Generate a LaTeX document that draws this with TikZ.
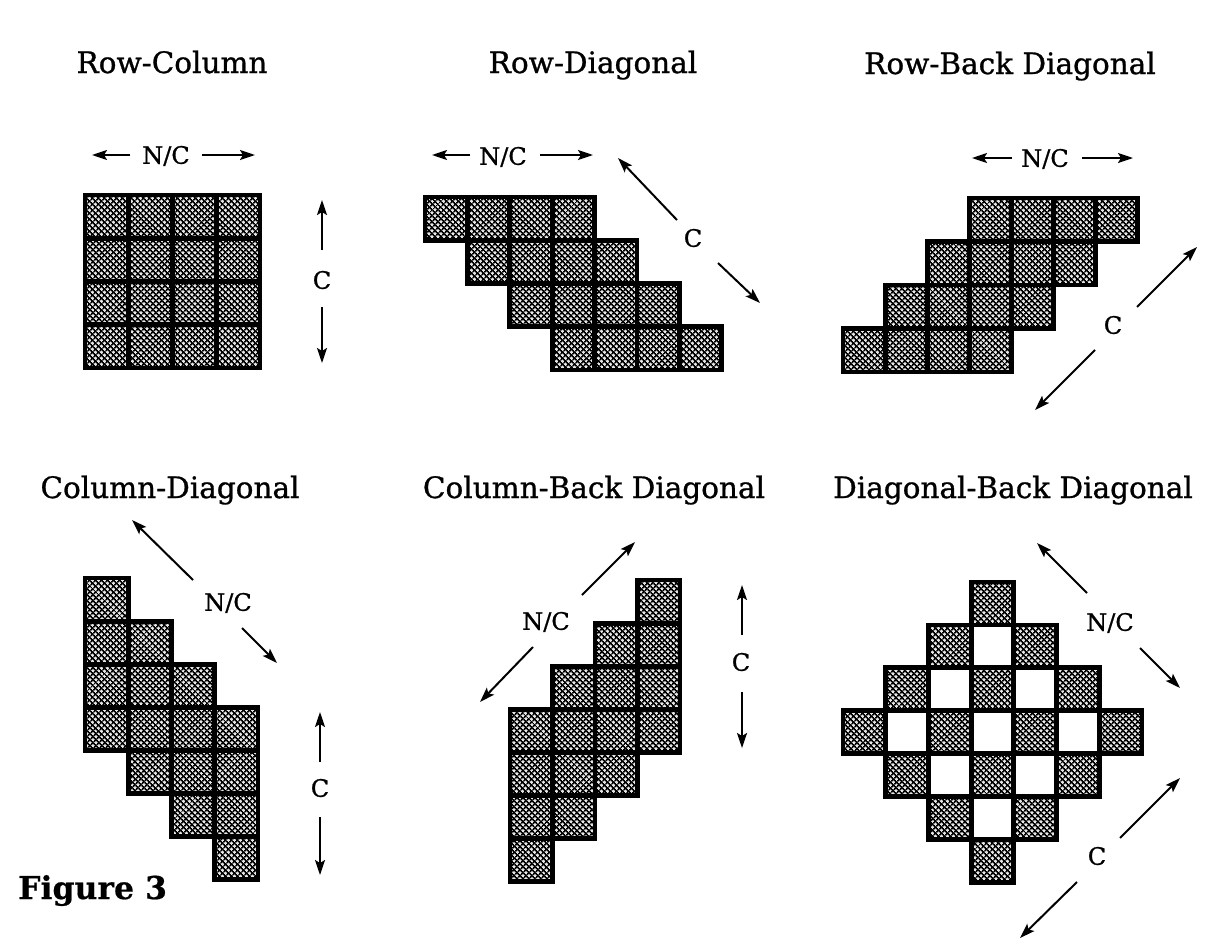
\documentclass[tikz,border=0pt]{standalone}
\usepackage{fontspec}
\setmainfont{DejaVu Serif}
\newfontfamily\heavyserif[FakeBold=0.9]{DejaVu Serif}
\newfontfamily\boldserif[FakeBold=0.6]{DejaVu Serif Bold}
\usetikzlibrary{patterns.meta,arrows.meta}
\tikzset{
 hatchA/.style={pattern={Lines[angle=45,distance=4.0pt,line width=1.6pt]},pattern color=black},
 hatchB/.style={pattern={Lines[angle=-45,distance=4.0pt,line width=1.6pt]},pattern color=black},
 cellbg/.style={fill=black!10},
 cellline/.style={draw=black,line width=4.8pt,line join=miter},
 arr/.style={-{Stealth[length=15pt,width=10pt,inset=3pt]},line width=2pt},
 ttl/.style={font=\heavyserif\fontsize{29.5}{29.5}\selectfont,anchor=base,inner sep=0pt},
 lab/.style={font=\heavyserif\fontsize{24}{24}\selectfont,inner sep=0pt,text height=17.5pt,text depth=0pt},
}
\newcommand\shadecells[1]{%
  \foreach \cx/\ry in #1{%
    \fill[cellbg] (\cx,\ry) rectangle ++(1,1);
    \fill[hatchA] (\cx,\ry) rectangle ++(1,1);
    \fill[hatchB] (\cx,\ry) rectangle ++(1,1);}}
\newcommand\bordercells[1]{%
  \foreach \cx/\ry in #1{\draw[cellline] (\cx,\ry) rectangle ++(1,1);}}
\begin{document}
\begin{tikzpicture}[x=1pt,y=-1pt]
\fill[white] (0,0) rectangle (1225,945);
\useasboundingbox (0,0) rectangle (1225,945);

% ---------- titles
\node[ttl] (t1) at (172,73) {Row-Column};
\node[ttl] (t2) at (593,73) {Row-Diagonal};
\node[ttl] (t3) at (1010,74) {Row-Back Diagonal};
\node[ttl] (t4) at (170,498) {Column-Diagonal};
\node[ttl] (t5) at (594,498) {Column-Back Diagonal};
\node[ttl] (t6) at (1013,498) {Diagonal-Back Diagonal};
\node[font=\boldserif\fontsize{31.5}{31.5}\selectfont,anchor=base west,inner sep=0pt] (fig) at (18,899) {Figure 3};

% ---------- panel 1: Row-Column
\begin{scope}[shift={(85pt,-195pt)},x=43.75pt,y=-43.25pt]
\def\L{0/0,1/0,2/0,3/0,0/1,1/1,2/1,3/1,0/2,1/2,2/2,3/2,0/3,1/3,2/3,3/3}
\shadecells{\L}\bordercells{\L}
\end{scope}
\node[lab] (p1nc) at (166,155) {N/C};
\node[lab] (p1c) at (322,280) {C};
\coordinate (p1a) at (130,155); \coordinate (p1ae) at (92,155);
\coordinate (p1b) at (202,155); \coordinate (p1be) at (255,155);
\coordinate (p1d) at (322,250); \coordinate (p1de) at (322,200);
\coordinate (p1e) at (322,307); \coordinate (p1ee) at (322,363);
\draw[arr] (p1a) -- (p1ae); \draw[arr] (p1b) -- (p1be);
\draw[arr] (p1d) -- (p1de); \draw[arr] (p1e) -- (p1ee);

% ---------- panel 2: Row-Diagonal
\begin{scope}[shift={(425pt,-197pt)},x=42.4pt,y=-43.25pt]
\def\L{0/0,1/0,2/0,3/0,1/1,2/1,3/1,4/1,2/2,3/2,4/2,5/2,3/3,4/3,5/3,6/3}
\shadecells{\L}\bordercells{\L}
\end{scope}
\node[lab] (p2nc) at (503,156) {N/C};
\node[lab] (p2c) at (693,238) {C};
\coordinate (p2a) at (470,155); \coordinate (p2ae) at (432,155);
\coordinate (p2b) at (540,155); \coordinate (p2be) at (593,155);
\coordinate (p2d) at (677,220); \coordinate (p2de) at (618,158);
\coordinate (p2e) at (718,263); \coordinate (p2ee) at (760,303);
\draw[arr] (p2a) -- (p2ae); \draw[arr] (p2b) -- (p2be);
\draw[arr] (p2d) -- (p2de); \draw[arr] (p2e) -- (p2ee);

% ---------- panel 3: Row-Back Diagonal
\begin{scope}[shift={(843pt,-198pt)},x=42.1pt,y=-43.5pt]
\def\L{3/0,4/0,5/0,6/0,2/1,3/1,4/1,5/1,1/2,2/2,3/2,4/2,0/3,1/3,2/3,3/3}
\shadecells{\L}\bordercells{\L}
\end{scope}
\node[lab] (p3nc) at (1045,158) {N/C};
\node[lab] (p3c) at (1113,325) {C};
\coordinate (p3a) at (1012,158); \coordinate (p3ae) at (972,158);
\coordinate (p3b) at (1082,158); \coordinate (p3be) at (1133,158);
\coordinate (p3d) at (1137,307); \coordinate (p3de) at (1197,247);
\coordinate (p3e) at (1095,350); \coordinate (p3ee) at (1035,410);
\draw[arr] (p3a) -- (p3ae); \draw[arr] (p3b) -- (p3be);
\draw[arr] (p3d) -- (p3de); \draw[arr] (p3e) -- (p3ee);

% ---------- panel 4: Column-Diagonal
\begin{scope}[shift={(85pt,-578pt)},x=43.25pt,y=-43.1pt]
\def\L{0/0,0/1,0/2,0/3,1/1,1/2,1/3,1/4,2/2,2/3,2/4,2/5,3/3,3/4,3/5,3/6}
\shadecells{\L}\bordercells{\L}
\end{scope}
\node[lab] (p4nc) at (228,602) {N/C};
\node[lab] (p4c) at (320,788) {C};
\coordinate (p4a) at (193,580); \coordinate (p4ae) at (132,520);
\coordinate (p4b) at (242,628); \coordinate (p4be) at (277,663);
\coordinate (p4d) at (320,762); \coordinate (p4de) at (320,712);
\coordinate (p4e) at (320,817); \coordinate (p4ee) at (320,875);
\draw[arr] (p4a) -- (p4ae); \draw[arr] (p4b) -- (p4be);
\draw[arr] (p4d) -- (p4de); \draw[arr] (p4e) -- (p4ee);

% ---------- panel 5: Column-Back Diagonal
\begin{scope}[shift={(510pt,-580pt)},x=42.5pt,y=-43.1pt]
\def\L{0/3,0/4,0/5,0/6,1/2,1/3,1/4,1/5,2/1,2/2,2/3,2/4,3/0,3/1,3/2,3/3}
\shadecells{\L}\bordercells{\L}
\end{scope}
\node[lab] (p5nc) at (546,621) {N/C};
\node[lab] (p5c) at (741,662) {C};
\coordinate (p5a) at (582,595); \coordinate (p5ae) at (635,542);
\coordinate (p5b) at (533,647); \coordinate (p5be) at (480,702);
\coordinate (p5d) at (742,635); \coordinate (p5de) at (742,585);
\coordinate (p5e) at (742,692); \coordinate (p5ee) at (742,748);
\draw[arr] (p5a) -- (p5ae); \draw[arr] (p5b) -- (p5be);
\draw[arr] (p5d) -- (p5de); \draw[arr] (p5e) -- (p5ee);

% ---------- panel 6: Diagonal-Back Diagonal
\begin{scope}[shift={(843pt,-582pt)},x=42.7pt,y=-42.9pt]
\def\L{3/0,2/1,4/1,1/2,3/2,5/2,0/3,2/3,4/3,6/3,1/4,3/4,5/4,2/5,4/5,3/6}
\def\W{3/1,2/2,4/2,1/3,3/3,5/3,2/4,4/4,3/5}
\shadecells{\L}\bordercells{\L}\bordercells{\W}
\end{scope}
\node[lab] (p6nc) at (1110,622) {N/C};
\node[lab] (p6c) at (1097,856) {C};
\coordinate (p6a) at (1087,593); \coordinate (p6ae) at (1037,543);
\coordinate (p6b) at (1140,648); \coordinate (p6be) at (1180,688);
\coordinate (p6d) at (1120,838); \coordinate (p6de) at (1180,778);
\coordinate (p6e) at (1077,882); \coordinate (p6ee) at (1020,938);
\draw[arr] (p6a) -- (p6ae); \draw[arr] (p6b) -- (p6be);
\draw[arr] (p6d) -- (p6de); \draw[arr] (p6e) -- (p6ee);
\end{tikzpicture}
\end{document}
